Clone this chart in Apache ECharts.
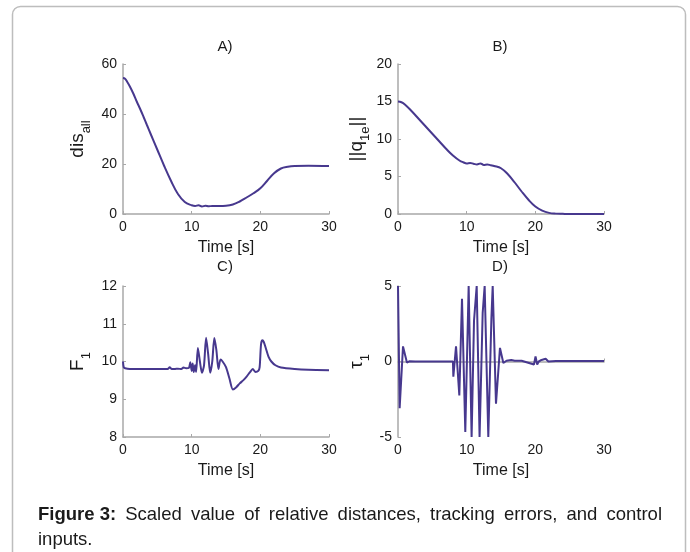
<!DOCTYPE html>
<html>
<head>
<meta charset="utf-8">
<script src="https://cdn.jsdelivr.net/npm/echarts@6/dist/echarts.min.js"></script>
<style>
html,body{margin:0;padding:0;background:#fff;}
#chart{width:690px;height:552px;}
</style>
</head>
<body>
<div id="chart"></div>
<script>
// ---- Data ----
// A) dis_all
var tA = [0,0.3,0.6,1,1.5,2,2.5,3,3.5,4,5,6,7,8,9,10,10.5,11,11.5,12,12.5,13,14,15,16,17,18,19,20,21,22,23,24,25,27,30];
var vA = [54.4,54.1,52.9,51,48.2,45,42,38.8,35.5,32.2,25.7,19.2,13.2,8,4.8,3.5,3.2,3.5,3.0,3.3,3.1,3.2,3.2,3.3,3.8,5,6.6,8.3,10.3,13.3,16.3,18.2,18.9,19.2,19.3,19.2];

// B) ||q_1e||
var tB = [0,0.5,1,2,3,4,5,6,7,8,9,9.5,10,10.5,11,11.5,12,12.5,13,13.5,14,15,16,17,18,19,20,21,22,23,24,25,30];
var vB = [15,14.9,14.6,13.7,12.7,11.7,10.7,9.7,8.7,7.8,7.1,6.9,6.75,6.8,6.7,6.6,6.75,6.55,6.6,6.5,6.4,6.1,5.3,4.2,3.0,1.9,1.0,0.45,0.15,0.05,0.02,0,0];

// C) F_1
var tC = [0,0.1,0.3,1,3,6,6.5,6.8,7.1,7.5,8,8.5,8.8,9.2,9.6,9.8,10,10.15,10.3,10.5,10.65,10.9,11.2,11.5,11.8,12.1,12.4,12.7,13,13.3,13.6,13.9,14.2,14.5,15,15.5,16,16.5,17,17.5,18,18.5,18.9,19.3,19.7,19.9,20.1,20.3,20.5,20.8,21.2,21.6,22.2,23,25,27,30];
var vC = [10.0,9.85,9.82,9.8,9.8,9.8,9.8,9.85,9.8,9.8,9.81,9.8,9.84,9.82,9.83,9.98,9.75,9.95,9.72,9.9,9.72,10.36,10.0,9.7,9.9,10.63,10.2,9.7,10.0,10.62,10.3,9.8,10.05,10.0,9.85,9.55,9.26,9.32,9.42,9.5,9.6,9.72,9.8,9.72,9.75,9.85,10.45,10.56,10.52,10.35,10.12,10.0,9.9,9.84,9.8,9.78,9.77];

// D) tau_1
var tD = [0,0.24,0.73,1.3,1.7,2.5,8,8.06,8.45,8.93,9.32,9.8,10.29,10.72,10.84,11.07,11.46,11.88,12.0,12.33,12.62,13.15,13.27,13.6,13.79,14.27,14.85,15.34,15.8,16.5,17,18,19.8,20.03,20.27,20.5,20.9,21.5,21.9,23,30];
var vD = [5,-3.1,1.0,-0.07,0.02,0,0,-1.0,1.0,-2.25,4.16,-4.67,5,-5,-5,2.7,5,-5,-5,3.2,5,-5,-5,2.85,5,-2.8,0.9,-0.1,0.05,0.1,0.05,0.05,-0.2,0.33,-0.2,0,0.1,0.18,0,0.03,0.03];

var panelTitles = ['A)', 'B)', 'C)', 'D)'];
var xName = 'Time [s]';
var captionBold = 'Figure 3:';
var captionLine1 = 'Scaled value of relative distances, tracking errors, and control';
var captionLine2 = 'inputs.';

// ---- Build chart ----
function zip(t, v) { return t.map(function (x, i) { return [x, v[i]]; }); }

var FONT = '"Liberation Sans", Arial, Helvetica, sans-serif';
var AXIS_COLOR = '#a8a8a8';
var TEXT_COLOR = '#1a1a1a';
var LINE_COLOR = '#47388e';

var grids = [
  { left: 123, top: 64, width: 206, height: 150 },
  { left: 398, top: 64, width: 206, height: 150 },
  { left: 123, top: 286, width: 206, height: 151 },
  { left: 398, top: 286, width: 206, height: 151 }
];

function xAxisCfg(i) {
  return {
    gridIndex: i, type: 'value', min: 0, max: 30, interval: 10,
    axisLine: { show: true, lineStyle: { color: AXIS_COLOR, width: 1.5 } },
    axisTick: { show: true, inside: true, length: 3, lineStyle: { color: AXIS_COLOR } },
    axisLabel: { color: TEXT_COLOR, fontSize: 14, fontFamily: FONT, margin: 6 },
    splitLine: { show: false },
    name: xName, nameLocation: 'middle', nameGap: 26,
    nameTextStyle: { color: TEXT_COLOR, fontSize: 16, fontFamily: FONT }
  };
}

function subRich(mainSize) {
  return {
    m: { fontSize: mainSize, lineHeight: mainSize, verticalAlign: 'top', fontFamily: FONT, color: TEXT_COLOR },
    s: { fontSize: 13, lineHeight: 13, padding: [12, 0, 0, 0], verticalAlign: 'top', fontFamily: FONT, color: TEXT_COLOR }
  };
}

function yAxisCfg(i, min, max, interval, name, gap) {
  return {
    gridIndex: i, type: 'value', min: min, max: max, interval: interval,
    axisLine: { show: true, lineStyle: { color: AXIS_COLOR, width: 1.5 } },
    axisTick: { show: true, inside: true, length: 3, lineStyle: { color: AXIS_COLOR } },
    axisLabel: { color: TEXT_COLOR, fontSize: 14, fontFamily: FONT, margin: 6 },
    splitLine: { show: false },
    name: name, nameLocation: 'middle', nameRotate: 90, nameGap: gap,
    nameTextStyle: { rich: subRich(19) }
  };
}

function lineSeries(i, t, v, smooth) {
  return {
    type: 'line', xAxisIndex: i, yAxisIndex: i, data: zip(t, v),
    showSymbol: false, smooth: smooth, clip: true,
    lineStyle: { color: LINE_COLOR, width: 2 }, itemStyle: { color: LINE_COLOR },
    animation: false
  };
}

var titleGraphics = [
  [225, 47], [500, 47], [225, 267], [500, 267]
].map(function (p, i) {
  return { type: 'text', x: p[0], y: p[1],
    style: { text: panelTitles[i], fill: TEXT_COLOR, font: '15px ' + FONT, textAlign: 'center', textVerticalAlign: 'middle' } };
});

// Justified caption first line (word placement from measured text widths)
var CAP_SIZE = 18.5;
var capLeft = 38, capRight = 662, capY1 = 515, capY2 = 540;
var mctx = document.createElement('canvas').getContext('2d');
var words = [{ t: captionBold, bold: true }].concat(captionLine1.split(' ').map(function (w) { return { t: w, bold: false }; }));
var totalW = 0;
words.forEach(function (w) {
  mctx.font = (w.bold ? 'bold ' : '') + CAP_SIZE + 'px ' + FONT;
  w.w = mctx.measureText(w.t).width;
  totalW += w.w;
});
var gapW = (capRight - capLeft - totalW) / (words.length - 1);
var cx = capLeft;
var captionGraphics = words.map(function (w) {
  var g = { type: 'text', x: cx, y: capY1,
    style: { text: w.t, fill: TEXT_COLOR, font: (w.bold ? 'bold ' : '') + CAP_SIZE + 'px ' + FONT, textVerticalAlign: 'middle' } };
  cx += w.w + gapW;
  return g;
});
captionGraphics.push({ type: 'text', x: capLeft, y: capY2,
  style: { text: captionLine2, fill: TEXT_COLOR, font: CAP_SIZE + 'px ' + FONT, textVerticalAlign: 'middle' } });

var option = {
  backgroundColor: '#ffffff',
  animation: false,
  grid: grids,
  xAxis: [0, 1, 2, 3].map(xAxisCfg),
  yAxis: [
    yAxisCfg(0, 0, 60, 20, '{m|dis}{s|all}', 36),
    yAxisCfg(1, 0, 20, 5, '{m|||q}{s|1e}{m|||}', 32),
    yAxisCfg(2, 8, 12, 1, '{m|F}{s|1}', 36),
    yAxisCfg(3, -5, 5, 5, '{m|τ}{s|1}', 32)
  ],
  series: [
    lineSeries(0, tA, vA, 0.4),
    lineSeries(1, tB, vB, 0.4),
    lineSeries(2, tC, vC, 0.25),
    lineSeries(3, tD, vD, false)
  ],
  graphic: [
    { type: 'rect', shape: { x: 12.5, y: 6.5, width: 673, height: 620, r: 8 },
      style: { fill: 'none', stroke: '#bdbdbd', lineWidth: 1.5 }, silent: true }
  ].concat(titleGraphics).concat(captionGraphics)
};

var chart = echarts.init(document.getElementById('chart'), null, { renderer: 'canvas' });
chart.setOption(option);
</script>
</body>
</html>
